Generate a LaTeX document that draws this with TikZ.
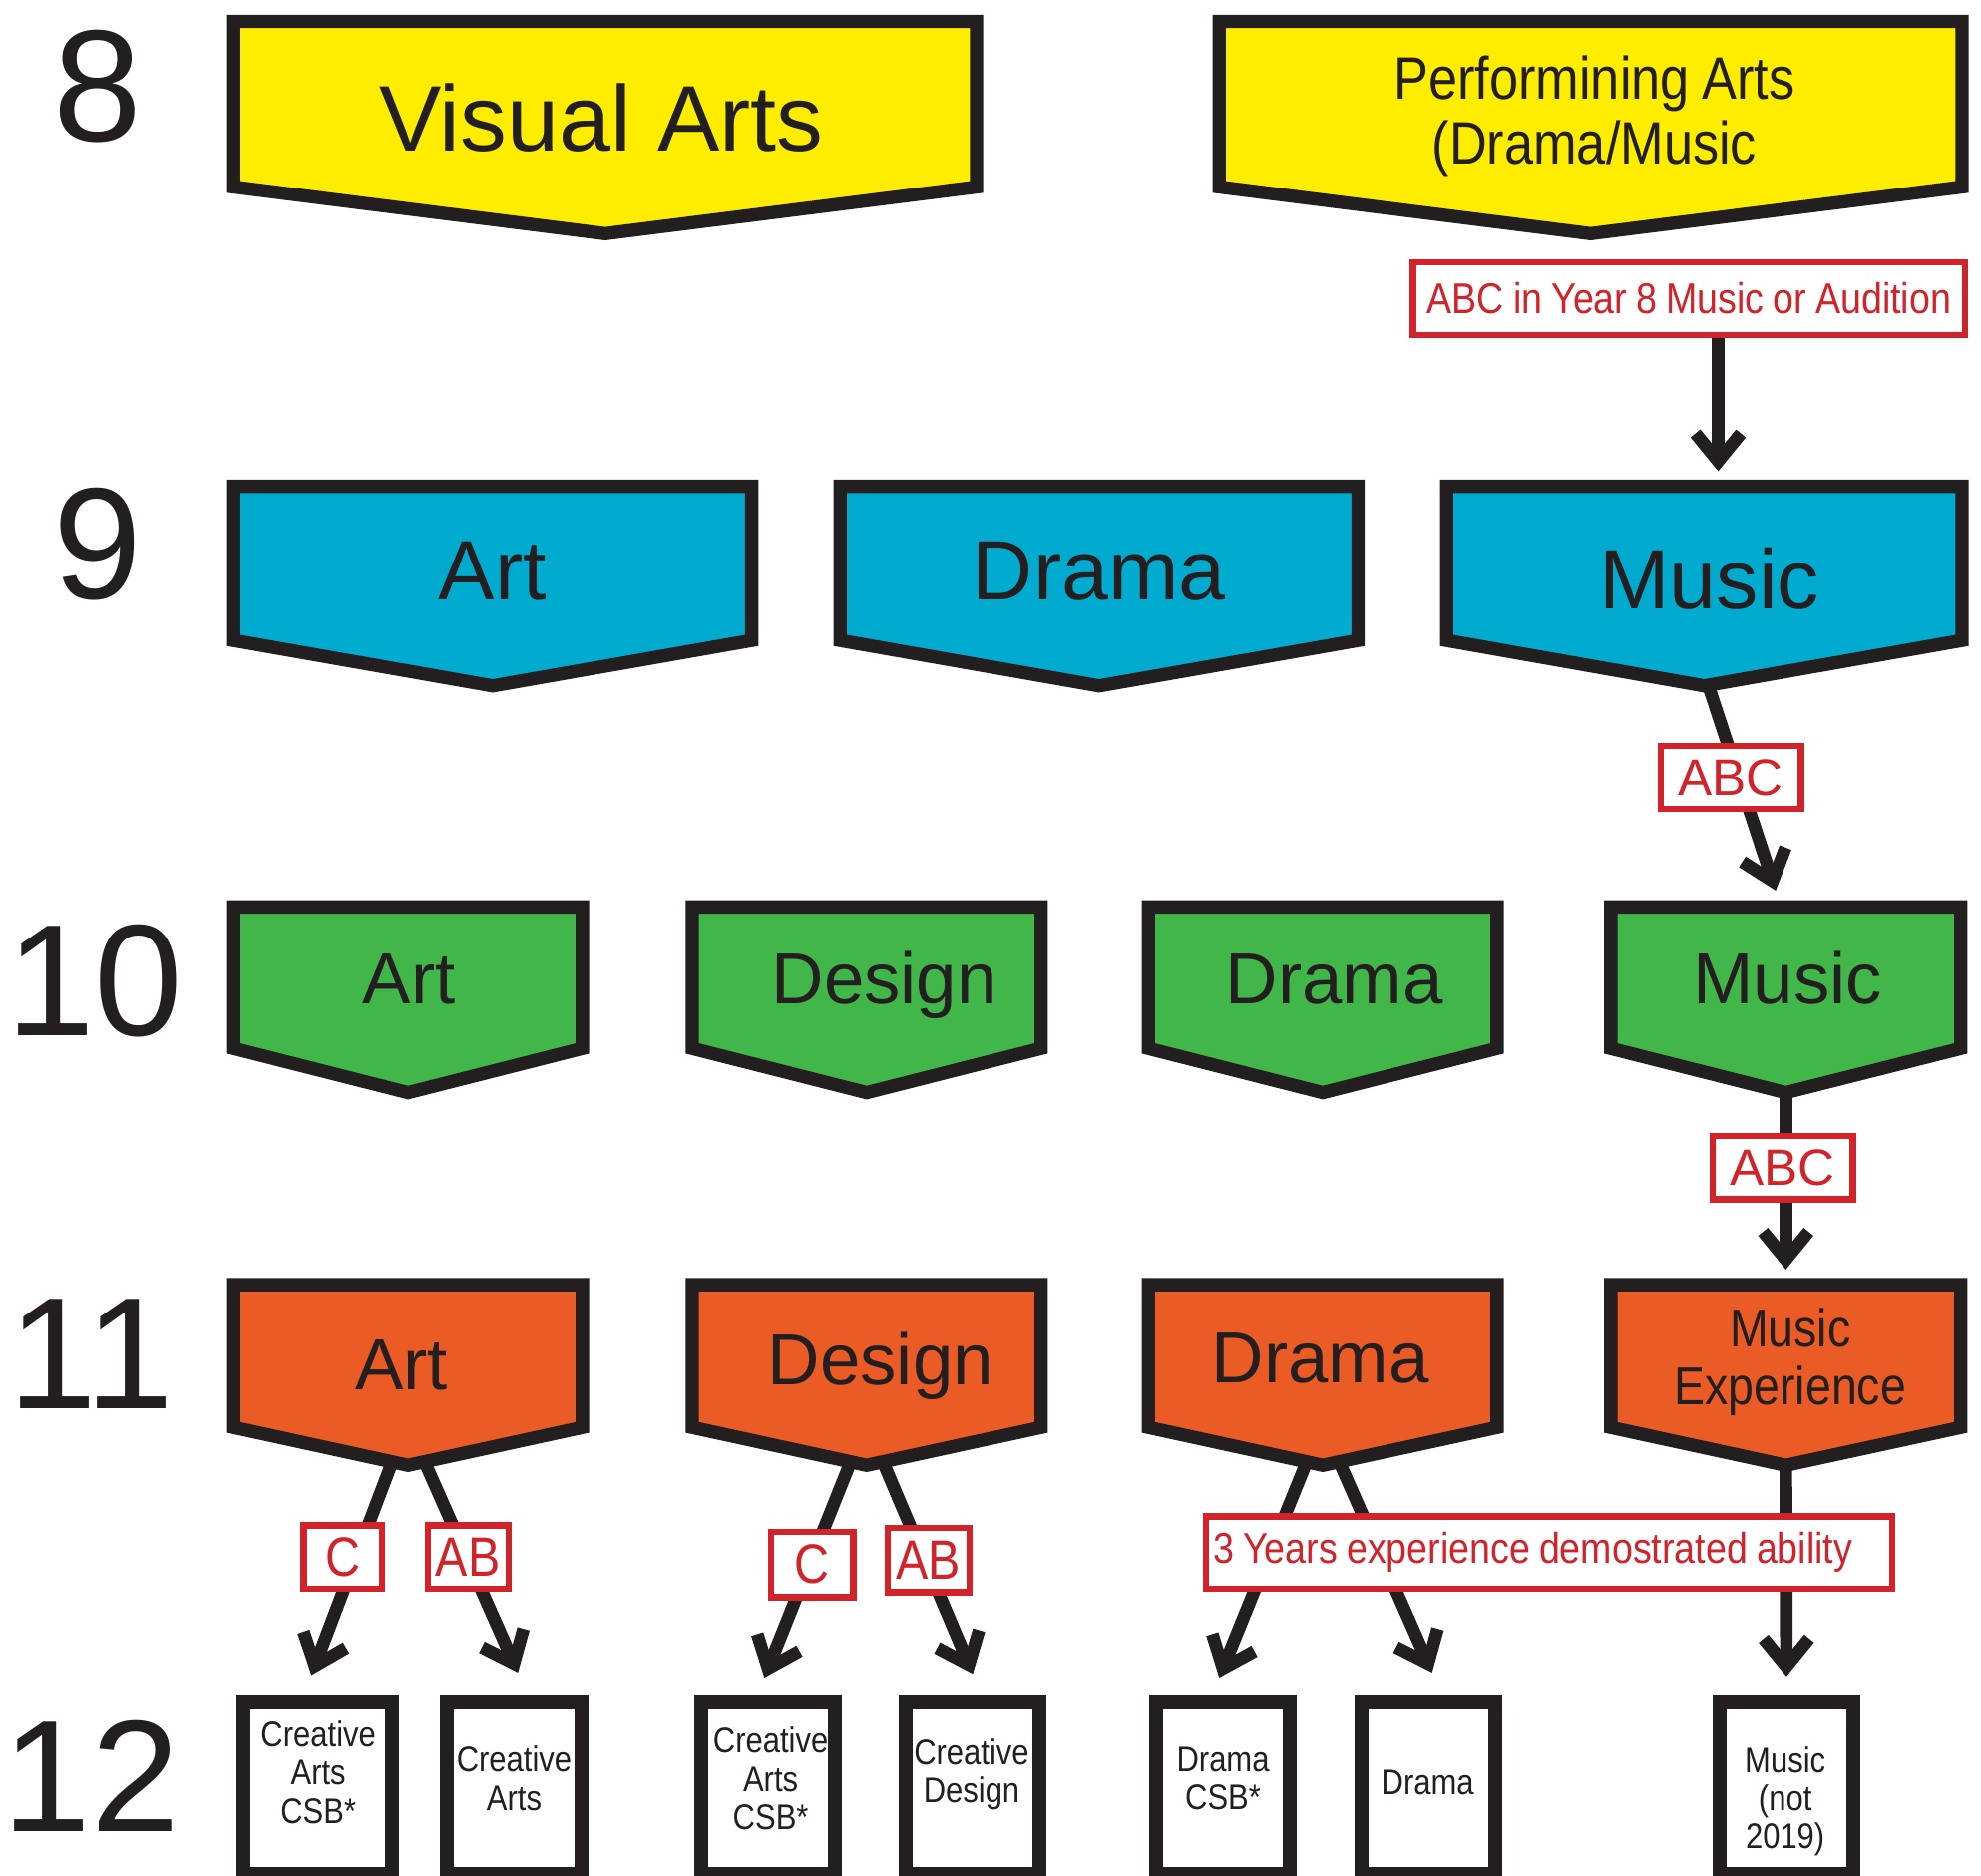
\documentclass[tikz,border=0pt]{standalone}
\usepackage{fontspec}
\setmainfont{Liberation Sans}
\newfontfamily\narrowfont[FakeStretch=0.87, WordSpace=0.87]{Liberation Sans}
\usepackage{tikz}
\usetikzlibrary{arrows.meta}
\usetikzlibrary{calc}
\usetikzlibrary{backgrounds}
\usepackage{xcolor}
\definecolor{inkblack}{HTML}{231F20}
\definecolor{yr8}{HTML}{FFED00}
\definecolor{yr9}{HTML}{00ABCF}
\definecolor{yr10}{HTML}{41B649}
\definecolor{yr11}{HTML}{EB5B25}
\definecolor{gradered}{HTML}{D2232A}
\newcommand\tagbox[7]{
  \draw[tagline, fill=#2] (#3,#5) -- (#4,#5) -- (#4,#6) -- ({(#3+#4)/2},#7) -- (#3,#6) -- cycle;
  \coordinate (#1-tip) at ({(#3+#4)/2},#7);
  \coordinate (#1-top) at ({(#3+#4)/2},#5);
}

\begin{document}
\begin{tikzpicture}[x=0.01cm, y=-0.01cm,
		tagline/.style={draw=inkblack, line width=0.105cm, line join=miter},
		yearno/.style={anchor=base, text=inkblack, font=\fontsize{35.8}{36}\selectfont},
		tagtxt/.style={anchor=base, text=inkblack, inner sep=0pt},
		flow/.style={draw=inkblack, line width=0.1cm, -{Straight Barb[sharp, length=0.22cm, width=0.36cm]}},
		grade/.style={draw=gradered, line width=0.05cm, fill=white, text=gradered, inner sep=0pt},
		leaf/.style={draw=inkblack, line width=0.11cm, fill=white, anchor=north, minimum width=1.06cm, minimum height=1.36cm},
		leaftxt/.style={text=inkblack, align=center, inner sep=0pt, font=\narrowfont\fontsize{8}{8.6}\selectfont}]
	\useasboundingbox (0,0) rectangle (1568,1485);

	\node[yearno] (y8) at (77,112) {8};
	\node[yearno] (y9) at (77,474) {9};
	\node[yearno] (y10) at (75,820) {10};
	\node[yearno] (y11) at (72,1115) {11};
	\node[yearno] (y12) at (72,1450) {12};

	\tagbox{visual}{yr8}{185}{773}{17}{148}{185}
	\node[tagtxt, font=\fontsize{21}{22}\selectfont] (visualtxt) at (476,120) {Visual Arts};
	\tagbox{perform}{yr8}{965}{1553}{17}{148}{185}
	\node[tagtxt, anchor=center, align=center, font=\narrowfont\fontsize{13.5}{14.5}\selectfont] (performtxt) at (1262,92) {Performining Arts\\(Drama/Music};
	\node[grade, minimum width=4.37cm, minimum height=0.58cm, font=\narrowfont\fontsize{9.7}{10}\selectfont] (cond8) at (1337,236.5) {ABC in Year 8 Music or Audition};

	\tagbox{art9}{yr9}{185}{595}{385}{507}{543}
	\node[tagtxt, font=\fontsize{19}{20}\selectfont] (art9txt) at (390,475) {Art};
	\tagbox{drama9}{yr9}{665}{1075}{385}{507}{543}
	\node[tagtxt, font=\fontsize{19}{20}\selectfont] (drama9txt) at (870,475) {Drama};
	\tagbox{music9}{yr9}{1145}{1553}{385}{507}{543}
	\node[tagtxt, font=\fontsize{19}{20}\selectfont] (music9txt) at (1353,482) {Music};

	\tagbox{art10}{yr10}{185}{461}{718}{830}{865}
	\node[tagtxt, font=\fontsize{16.3}{17}\selectfont] (art10txt) at (324,795) {Art};
	\tagbox{design10}{yr10}{548}{824}{718}{830}{865}
	\node[tagtxt, font=\fontsize{16.3}{17}\selectfont] (design10txt) at (700,795) {Design};
	\tagbox{drama10}{yr10}{909}{1185}{718}{830}{865}
	\node[tagtxt, font=\fontsize{16.3}{17}\selectfont] (drama10txt) at (1056,795) {Drama};
	\tagbox{music10}{yr10}{1275}{1552}{718}{830}{865}
	\node[tagtxt, font=\fontsize{16.3}{17}\selectfont] (music10txt) at (1415,795) {Music};

	\tagbox{art11}{yr11}{185}{461}{1017}{1130}{1160}
	\node[tagtxt, font=\fontsize{16.3}{17}\selectfont] (art11txt) at (318,1100) {Art};
	\tagbox{design11}{yr11}{548}{824}{1017}{1130}{1160}
	\node[tagtxt, font=\fontsize{16.3}{17}\selectfont] (design11txt) at (697,1096) {Design};
	\tagbox{drama11}{yr11}{909}{1185}{1017}{1130}{1160}
	\node[tagtxt, font=\fontsize{16.3}{17}\selectfont] (drama11txt) at (1045,1095) {Drama};
	\tagbox{music11}{yr11}{1275}{1552}{1017}{1130}{1160}
	\node[tagtxt, anchor=center, align=center, font=\narrowfont\fontsize{12}{13}\selectfont] (music11txt) at (1417,1078) {Music\\Experience};

	\node[leaf, minimum width=1.18cm] (leafA) at (251.5,1342) {};
	\node[leaf] (leafB) at (407,1342) {};
	\node[leaf] (leafC) at (608,1342) {};
	\node[leaf] (leafD) at (770,1342) {};
	\node[leaf] (leafE) at (968,1342) {};
	\node[leaf] (leafF) at (1130.5,1342) {};
	\node[leaf] (leafG) at (1414,1342) {};
	\node[leaftxt] (leafAtxt) at (252,1403) {Creative\\Arts\\CSB*};
	\node[leaftxt] (leafBtxt) at (407,1408) {Creative\\Arts};
	\node[leaftxt] (leafCtxt) at (610,1408) {Creative\\Arts\\CSB*};
	\node[leaftxt] (leafDtxt) at (769,1405) {Creative\\Design};
	\node[leaftxt] (leafEtxt) at (968,1408) {Drama\\CSB*};
	\node[leaftxt] (leafFtxt) at (1130,1411) {Drama};
	\node[leaftxt] (leafGtxt) at (1413,1426) {Music\\(not\\2019)};

	\begin{scope}[on background layer]
		\draw[flow] (cond8.south -| {$(music9-top)+(11,0)$}) -- ($(music9-top)+(11,-12)$);
		\draw[flow] ($(music9-tip)+(0,-10)$) -- ($(music10-top)+(-8,-13)$);
		\draw[flow] ($(music10-tip)+(0,-10)$) -- ($(music11-top)+(0,-12)$);
		\draw[flow] ($(art11-tip)+(-9,-12)$) -- ($(leafA.north)+(-5,-16)$);
		\draw[flow] ($(art11-tip)+(9,-12)$) -- ($(leafB.north)+(3,-18)$);
		\draw[flow] ($(design11-tip)+(-9,-12)$) -- ($(leafC.north)+(-3,-14)$);
		\draw[flow] ($(design11-tip)+(9,-12)$) -- ($(leafD.north)+(0,-17)$);
		\draw[flow] ($(drama11-tip)+(-9,-12)$) -- ($(leafE.north)+(-3,-14)$);
		\draw[flow] ($(drama11-tip)+(9,-12)$) -- ($(leafF.north)+(3,-18)$);
		\draw[flow] ($(music11-tip)+(0,-10)$) -- ($(leafG.north)+(0,-15)$);
	\end{scope}

	\node[grade, minimum width=1.11cm, minimum height=0.5cm, font=\fontsize{11.5}{12}\selectfont] (abc9) at (1370,615.5) {ABC};
	\node[grade, minimum width=1.11cm, minimum height=0.5cm, font=\fontsize{11.5}{12}\selectfont] (abc10) at (1411,924.5) {ABC};
	\node[grade, minimum width=0.62cm, minimum height=0.5cm, font=\narrowfont\fontsize{12.5}{13}\selectfont] (artC) at (271.5,1232.5) {C};
	\node[grade, minimum width=0.64cm, minimum height=0.5cm, font=\narrowfont\fontsize{12.5}{13}\selectfont] (artAB) at (370.5,1232.5) {AB};
	\node[grade, minimum width=0.65cm, minimum height=0.52cm, font=\narrowfont\fontsize{12.5}{13}\selectfont] (designC) at (643,1238.5) {C};
	\node[grade, minimum width=0.65cm, minimum height=0.51cm, font=\narrowfont\fontsize{12.5}{13}\selectfont] (designAB) at (735,1235) {AB};
	\node[grade, inner xsep=0.06cm, minimum height=0.57cm, font=\narrowfont\fontsize{9.7}{10}\selectfont] (exp12) at (1226,1229) {\makebox[5.31cm][l]{3 Years experience demostrated ability}};
\end{tikzpicture}
\end{document}
